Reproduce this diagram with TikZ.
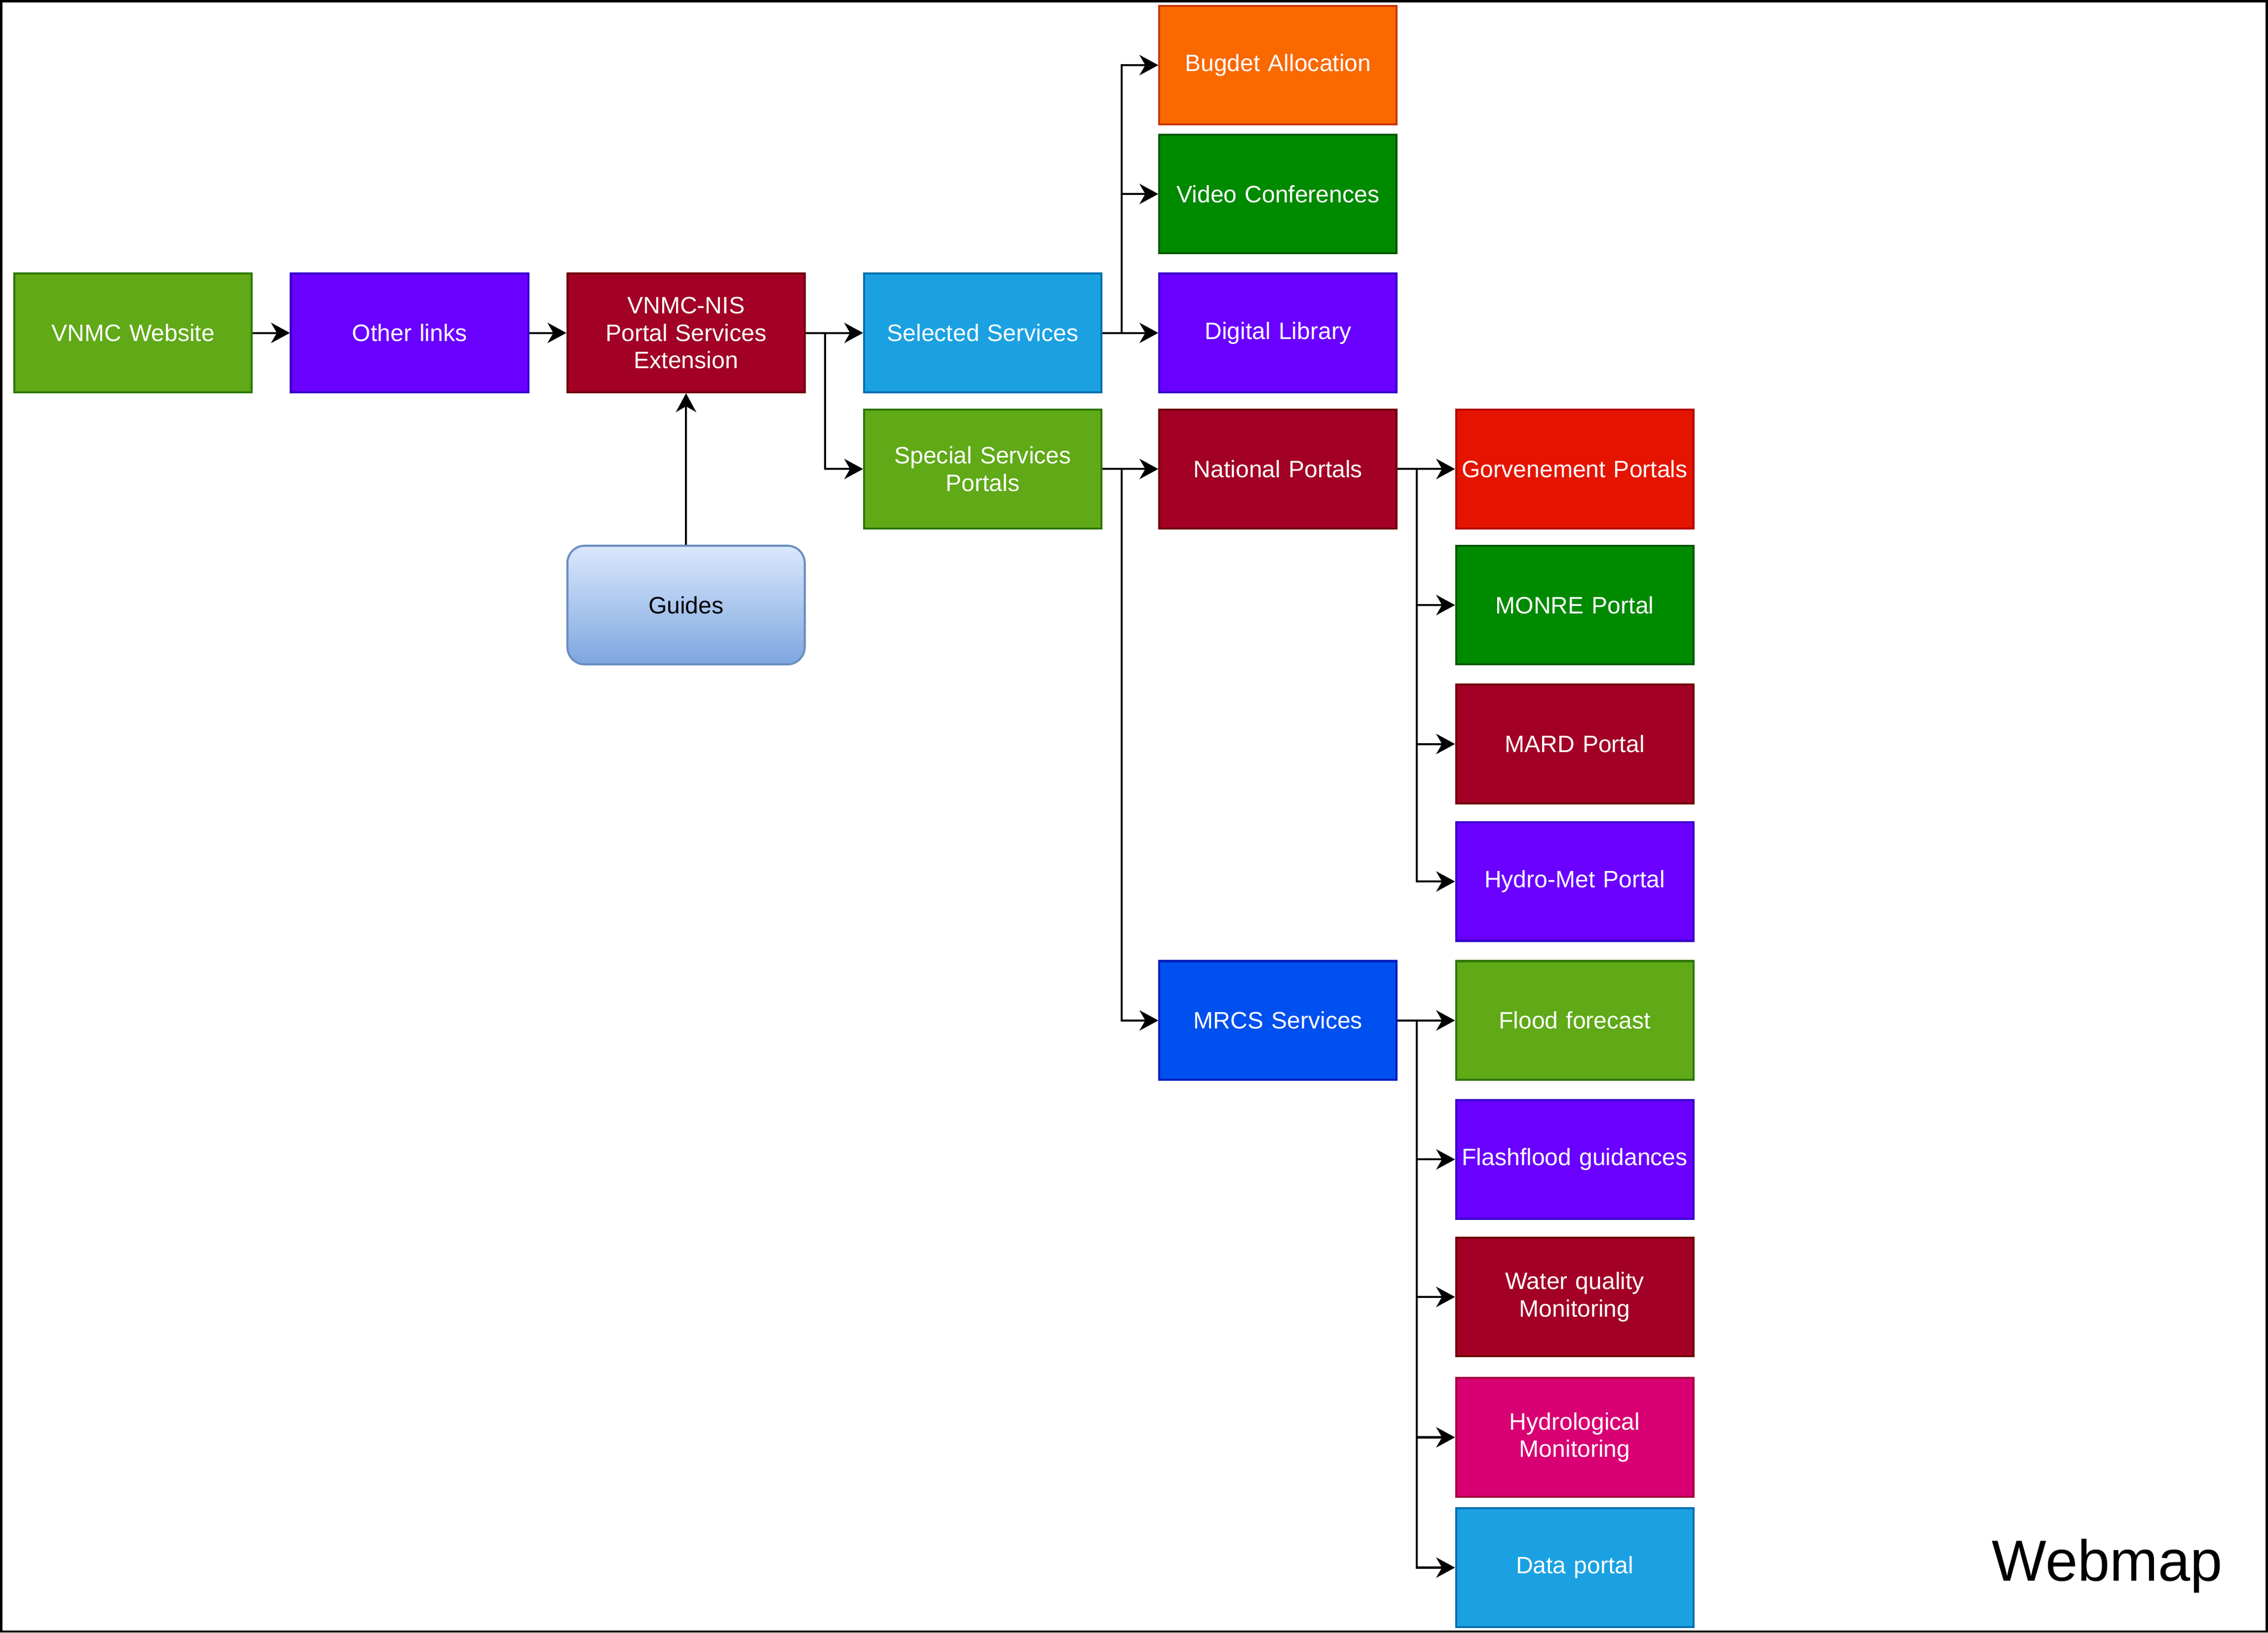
\documentclass[tikz,border=0pt]{standalone}
\usepackage{fontspec}
\setmainfont{Liberation Sans}
\usetikzlibrary{arrows.meta}
\definecolor{cGreen}{HTML}{60A917}\definecolor{sGreen}{HTML}{2D7600}
\definecolor{cPurple}{HTML}{6A00FF}\definecolor{sPurple}{HTML}{3700CC}
\definecolor{cCrimson}{HTML}{A20025}\definecolor{sCrimson}{HTML}{6F0000}
\definecolor{cCyan}{HTML}{1BA1E2}\definecolor{sCyan}{HTML}{006EAF}
\definecolor{cOrange}{HTML}{FA6800}\definecolor{sOrange}{HTML}{C73500}
\definecolor{cEmerald}{HTML}{008A00}\definecolor{sEmerald}{HTML}{005700}
\definecolor{cRed}{HTML}{E51400}\definecolor{sRed}{HTML}{B20000}
\definecolor{cCobalt}{HTML}{0050EF}\definecolor{sCobalt}{HTML}{001DBC}
\definecolor{cMagenta}{HTML}{D80073}\definecolor{sMagenta}{HTML}{A50040}
\definecolor{gTop}{HTML}{DAE8FC}\definecolor{gBot}{HTML}{7EA6E0}\definecolor{gStroke}{HTML}{6C8EBF}
\tikzset{
  box/.style={rectangle, minimum width=164pt, minimum height=82pt, inner sep=2pt,
    line width=1.4pt, text=white, align=center, text width=160pt,
    font=\fontsize{16.4}{19}\selectfont},
  green/.style={box, fill=cGreen, draw=sGreen},
  purple/.style={box, fill=cPurple, draw=sPurple},
  crimson/.style={box, fill=cCrimson, draw=sCrimson},
  cyan/.style={box, fill=cCyan, draw=sCyan},
  orange/.style={box, fill=cOrange, draw=sOrange},
  emerald/.style={box, fill=cEmerald, draw=sEmerald},
  red/.style={box, fill=cRed, draw=sRed},
  cobalt/.style={box, fill=cCobalt, draw=sCobalt},
  magenta/.style={box, fill=cMagenta, draw=sMagenta},
  guidebox/.style={box, text=black, draw=gStroke, top color=gTop, bottom color=gBot, rounded corners=12pt},
  conn/.style={line width=1.4pt, draw=black, -{Stealth[length=13pt,width=14pt,inset=4pt]}},
  plain/.style={line width=1.4pt, draw=black}
}
\begin{document}
\begin{tikzpicture}[x=1pt,y=-1pt]
\useasboundingbox (0,0) rectangle (1567,1128);
\draw[line width=1.6pt] (0.8,0.8) rectangle (1566.2,1127.2);
% nodes
\node[green] (web) at (92,230) {VNMC Website};
\node[purple] (other) at (283,230) {Other links};
\node[crimson] (nis) at (474,230) {VNMC-NIS\\Portal Services\\Extension};
\node[guidebox] (guides) at (474,418) {Guides};
\node[cyan] (sel) at (679,230) {Selected Services};
\node[green] (spec) at (679,324) {Special Services\\Portals};
\node[orange] (bud) at (883,45) {Bugdet Allocation};
\node[emerald] (video) at (883,134) {Video Conferences};
\node[purple] (lib) at (883,230) {Digital Library};
\node[crimson] (nat) at (883,324) {National Portals};
\node[cobalt] (mrcs) at (883,705) {MRCS Services};
\node[red] (gov) at (1088,324) {Gorvenement Portals};
\node[emerald] (monre) at (1088,418) {MONRE Portal};
\node[crimson] (mard) at (1088,514) {MARD Portal};
\node[purple] (hydromet) at (1088,609) {Hydro-Met Portal};
\node[green] (flood) at (1088,705) {Flood forecast};
\node[purple] (flash) at (1088,801) {Flashflood guidances};
\node[crimson] (water) at (1088,896) {Water quality\\Monitoring};
\node[magenta] (hydro) at (1088,993) {Hydrological\\Monitoring};
\node[cyan] (data) at (1088,1083) {Data portal};
\node[font=\fontsize{40}{48}\selectfont, text=black, inner sep=0pt] (title) at (1456,1082) {Webmap};
% branch points
\coordinate (b1) at (570,230);
\coordinate (b2) at (775,230);
\coordinate (b3) at (775,324);
\coordinate (b4) at (979,324);
\coordinate (b5) at (979,705);
% connectors
\draw[conn] (web) -- (other);
\draw[conn] (other) -- (nis);
\draw[conn] (guides) -- (nis);
\draw[conn] (nis) -- (sel);
\draw[conn] (b1) |- (spec.west);
\draw[conn] (sel) -- (lib);
\draw[conn] (b2) |- (bud.west);
\draw[conn] (b2) |- (video.west);
\draw[conn] (spec) -- (nat);
\draw[conn] (b3) |- (mrcs.west);
\draw[conn] (nat) -- (gov);
\draw[conn] (b4) |- (monre.west);
\draw[conn] (b4) |- (mard.west);
\draw[conn] (b4) |- (hydromet.west);
\draw[conn] (mrcs) -- (flood);
\draw[conn] (b5) |- (flash.west);
\draw[conn] (b5) |- (water.west);
\draw[conn] (b5) |- (hydro.west);
\draw[conn] (b5) |- (data.west);
\end{tikzpicture}
\end{document}
